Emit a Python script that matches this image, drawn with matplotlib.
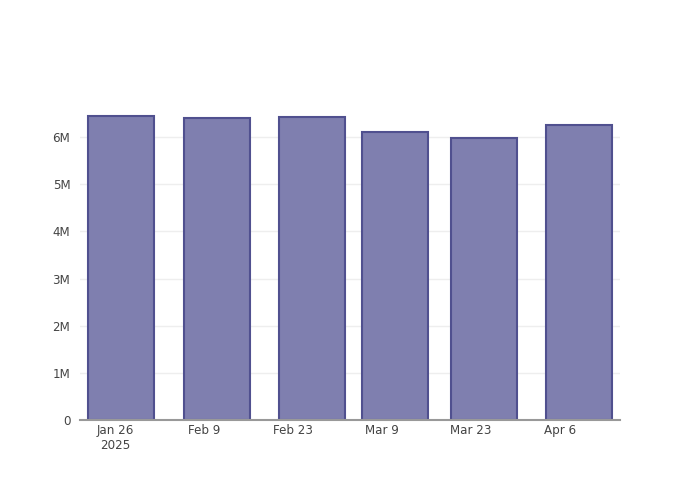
import matplotlib
matplotlib.use("Agg")
import matplotlib.pyplot as plt
import matplotlib.dates as mdates
import numpy as np
import datetime as dt

dates = ["2025-01-27", "2025-02-11", "2025-02-26", "2025-03-11", "2025-03-25", "2025-04-09"]
values = [6.44e6, 6.41e6, 6.43e6, 6.12e6, 5.99e6, 6.27e6]
tick_dates = ["2025-01-26", "2025-02-09", "2025-02-23", "2025-03-09", "2025-03-23", "2025-04-06"]
tick_labels = ["Jan 26\n2025", "Feb 9", "Feb 23", "Mar 9", "Mar 23", "Apr 6"]
y_ticks = [0, 1e6, 2e6, 3e6, 4e6, 5e6, 6e6]
y_labels = ["0", "1M", "2M", "3M", "4M", "5M", "6M"]

x = mdates.date2num([dt.datetime.fromisoformat(d) for d in dates])
xt = mdates.date2num([dt.datetime.fromisoformat(d) for d in tick_dates])

fig = plt.figure(figsize=(7, 5), dpi=100)
ax = fig.add_axes([80/700, 80/500, 540/700, 320/500])

width = 0.8 * np.min(np.diff(x))
ax.bar(x, values, width=width, color="#7f7faf", edgecolor="#50508f", linewidth=1.5, zorder=3)

ax.set_xlim(xt[0] - 5.5, xt[0] + 79.45)
ax.set_ylim(0, 6.79e6)
ax.set_xticks(xt)
ax.set_xticklabels(tick_labels)
ax.set_yticks(y_ticks)
ax.set_yticklabels(y_labels)

ax.grid(axis="y", color="#eeeeee", linewidth=1, zorder=0)
for s in ["top", "right", "left"]:
    ax.spines[s].set_visible(False)
ax.spines["bottom"].set_color("#999999")
ax.spines["bottom"].set_linewidth(1.5)
ax.spines["bottom"].set_zorder(4)
ax.tick_params(axis="both", length=0, labelsize=8.6, colors="#444444")
ax.tick_params(axis="x", pad=3)
ax.tick_params(axis="y", pad=7)

fig.savefig("out.png", dpi=100)
